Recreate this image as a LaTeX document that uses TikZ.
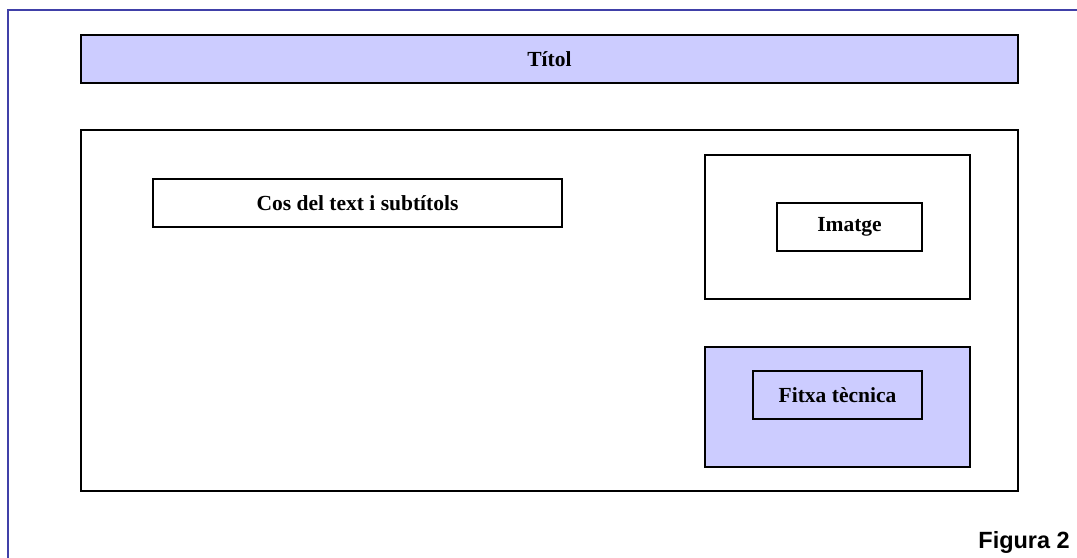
\documentclass[tikz,border=0pt]{standalone}
\usepackage{fontspec}
\setmainfont{Liberation Serif}
\setsansfont{Liberation Sans}
\definecolor{lila}{RGB}{204,204,255}
\definecolor{marc}{RGB}{64,64,168}
\tikzset{caixa/.style={draw,line width=1.2pt,inner sep=0pt,outer sep=0pt,font=\fontsize{15.3}{18}\selectfont\bfseries}}

\begin{document}
\begin{tikzpicture}
  \useasboundingbox (0,0) rectangle (26.925,13.95);
  \draw[marc,line width=1.3pt] (0.21,0) -- (0.21,13.7) -- (26.925,13.7);
  \node[caixa,fill=lila,minimum width=23.425cm,minimum height=1.2cm] (titol) at (13.7375,12.475) {Títol};
  \node[caixa,minimum width=23.425cm,minimum height=9.025cm] (pagina) at (13.7375,6.1875) {};
  \node[caixa,minimum width=10.225cm,minimum height=1.2cm] (cos) at (8.9375,8.875) {Cos del text i subtítols};
  \node[caixa,minimum width=6.625cm,minimum height=3.6cm] (marcimatge) at (20.9375,8.275) {};
  \node[caixa,minimum width=3.625cm,minimum height=1.2cm] (imatge) at (21.2375,8.275) {Imatge};
  \node[caixa,fill=lila,minimum width=6.625cm,minimum height=3cm] (marcfitxa) at (20.9375,3.775) {};
  \node[caixa,minimum width=4.225cm,minimum height=1.2cm] (fitxa) at (20.9375,4.075) {Fitxa tècnica};
  \node[anchor=base east,inner sep=0pt,font=\sffamily\bfseries\fontsize{16.7}{20}\selectfont] (figura) at (26.75,0.225) {Figura 2};
\end{tikzpicture}
\end{document}
